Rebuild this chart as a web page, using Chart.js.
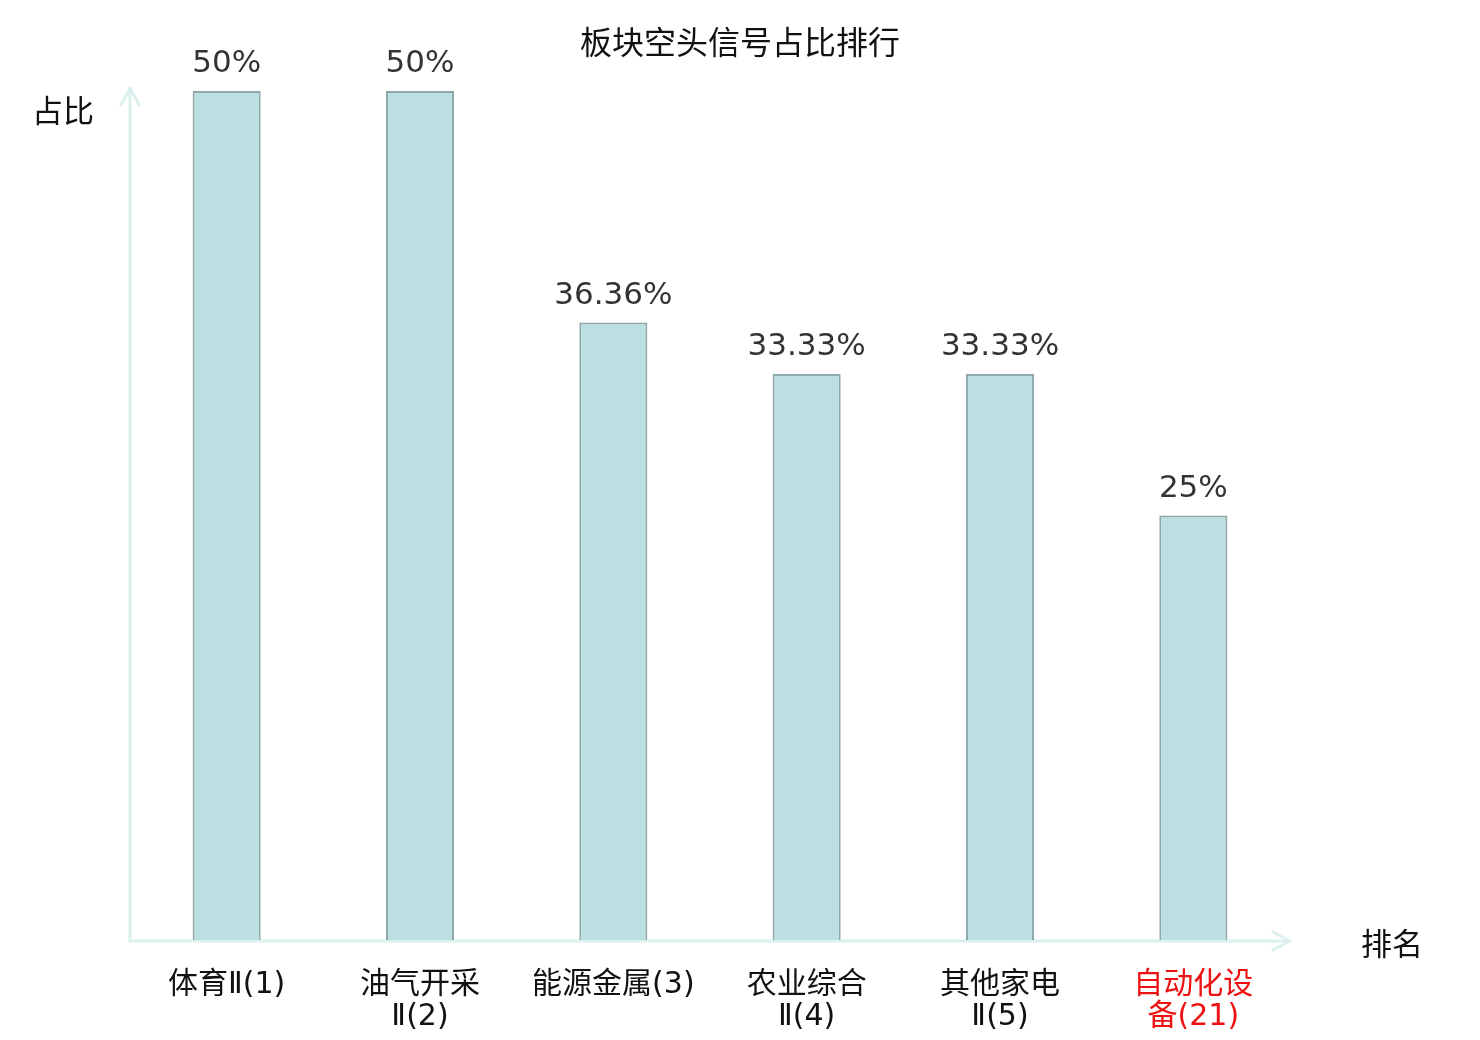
<!DOCTYPE html>
<html><head><meta charset="utf-8">
<script src="https://cdn.jsdelivr.net/npm/chart.js@4/dist/chart.umd.min.js"></script>
<style>html,body{margin:0;padding:0;background:#fff;}#wrap{width:1480px;height:1040px;}</style>
</head><body><div id="wrap"><canvas id="c" width="1480" height="1040"></canvas></div>
<script>
const chartTitle = "板块空头信号占比排行";
const yAxisTitle = "占比";
const xAxisTitle = "排名";
const categories = ["体育Ⅱ(1)", "油气开采Ⅱ(2)", "能源金属(3)", "农业综合Ⅱ(4)", "其他家电Ⅱ(5)", "自动化设备(21)"];
const values = [50, 50, 36.36, 33.33, 33.33, 25];
const labelColors = ["#111111", "#111111", "#111111", "#111111", "#111111", "#ee1111"];

function wrapLabel(s) {
  return s.length > 7 ? [s.slice(0, 4), s.slice(4)] : s;
}

const AXIS_COLOR = "#dcf1ee";
const CJK = '"Noto Sans CJK SC", sans-serif';
const NUM = '"DejaVu Sans", sans-serif';

const decor = {
  id: "decor",
  beforeDatasetsDraw(chart) {
    const ctx = chart.ctx, a = chart.chartArea;
    const x0 = a.left, y0 = a.bottom + 1;
    ctx.save();
    ctx.strokeStyle = AXIS_COLOR;
    ctx.lineWidth = 3;
    ctx.lineCap = "round";
    ctx.lineJoin = "round";
    ctx.beginPath(); ctx.moveTo(x0, y0); ctx.lineTo(x0, a.top - 3); ctx.stroke();
    ctx.beginPath(); ctx.moveTo(x0 - 9, a.top + 14); ctx.lineTo(x0, a.top - 3); ctx.lineTo(x0 + 9, a.top + 14); ctx.stroke();
    ctx.beginPath(); ctx.moveTo(x0, y0); ctx.lineTo(a.right, y0); ctx.stroke();
    ctx.beginPath(); ctx.moveTo(a.right - 17, y0 - 9); ctx.lineTo(a.right, y0); ctx.lineTo(a.right - 17, y0 + 9); ctx.stroke();
    ctx.restore();
  },
  afterDraw(chart) {
    const ctx = chart.ctx, a = chart.chartArea;
    ctx.save();
    ctx.fillStyle = "#111";
    ctx.textAlign = "center";
    ctx.textBaseline = "middle";
    ctx.font = "32px " + CJK;
    ctx.fillText(chartTitle, chart.width / 2, 42);
    ctx.font = "31px " + CJK;
    ctx.fillText(yAxisTitle, a.left - 67, a.top + 19);
    ctx.fillText(xAxisTitle, a.right + 102, a.bottom + 3);
    const meta = chart.getDatasetMeta(0);
    ctx.fillStyle = "#333";
    ctx.font = "31px " + NUM;
    ctx.textBaseline = "alphabetic";
    meta.data.forEach((bar, i) => {
      ctx.fillText(values[i] + "%", bar.x, bar.y - 19);
    });
    ctx.restore();
  }
};

new Chart(document.getElementById("c"), {
  type: "bar",
  data: {
    labels: categories.map(wrapLabel),
    datasets: [{
      data: values,
      backgroundColor: "#bce0e2",
      borderColor: "#8ca8a9",
      borderWidth: 2,
      barPercentage: 1,
      categoryPercentage: 0.352
    }]
  },
  options: {
    responsive: false,
    animation: false,
    devicePixelRatio: 1,
    layout: { padding: { left: 130, right: 190, top: 91, bottom: 1 } },
    plugins: { legend: { display: false }, title: { display: false }, tooltip: { enabled: false } },
    scales: {
      y: { display: false, min: 0, max: 50 },
      x: {
        grid: { display: false, drawTicks: false },
        border: { display: false },
        ticks: {
          padding: 29,
          maxRotation: 0,
          autoSkip: false,
          color: (c) => labelColors[c.index],
          font: { family: '"DejaVu Sans", "Noto Sans CJK SC", sans-serif', size: 30, lineHeight: 1.07 }
        },
        afterFit(scale) { scale.height = 99; }
      }
    }
  },
  plugins: [decor]
});
</script>
</body></html>
